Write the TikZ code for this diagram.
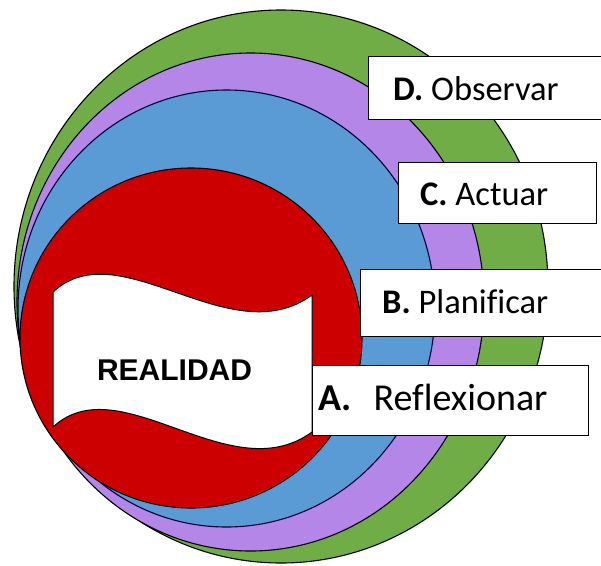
\documentclass[tikz,border=0pt]{standalone}
\usepackage{fontspec}
\setmainfont{Carlito}[Ligatures=NoCommon]
\newfontfamily\realfont{Liberation Sans}
\definecolor{cgreen}{RGB}{112,173,71}
\definecolor{cpurple}{RGB}{180,134,232}
\definecolor{cblue}{RGB}{91,155,213}
\definecolor{cred}{RGB}{204,0,0}
\tikzset{
  ring/.style={draw=black, line width=1.1pt},
  labelbox/.style={draw=black, fill=white, line width=1.3pt, rectangle, inner sep=0pt, anchor=north west},
  labeltext/.style={anchor=base west, inner sep=0pt, font=\fontsize{34.5}{40}\selectfont},
  labeltextA/.style={anchor=base west, inner sep=0pt, font=\fontsize{38}{44}\selectfont},
}
\begin{document}
\begin{tikzpicture}[x=1pt,y=-1pt]
\useasboundingbox (0,0) rectangle (601,565);
% nested rings
\draw[ring, fill=cgreen] (281,286.5) ellipse [x radius=267pt, y radius=276.5pt];
\draw[ring, fill=cpurple] (250.5,302) ellipse [x radius=233.5pt, y radius=249pt];
\draw[ring, fill=cblue, draw=black!80!blue] (226.5,308.5) ellipse [x radius=208.5pt, y radius=218.5pt];
\draw[ring, fill=cred] (191,338) ellipse [x radius=171pt, y radius=170pt];
% wavy white shape
\draw[line width=1pt, fill=white] (53,292) .. controls (120,230) and (230,355) .. (312,295)
  -- (312,432) .. controls (230,492) and (120,365) .. (53,427) -- cycle;
\node[font=\realfont\bfseries\fontsize{30}{36}\selectfont, anchor=base, inner sep=0pt] (real) at (174.5,380) {REALIDAD};
% label boxes
\node[labelbox, minimum width=240pt, minimum height=63pt] (boxD) at (368,56) {};
\node[labeltext] (labD) at (393,100) {\textbf{D.} Observar};
\node[labelbox, minimum width=198pt, minimum height=61pt] (boxC) at (398,162) {};
\node[labeltext] (labC) at (420,205) {\textbf{C.} Actuar};
\node[labelbox, minimum width=250pt, minimum height=67pt] (boxB) at (360,269) {};
\node[labeltext] (labB) at (382,313) {\textbf{B.} Planificar};
\node[labelbox, minimum width=276pt, minimum height=70pt] (boxA) at (312,365) {};
\node[labeltextA] (labA) at (318,410) {\textbf{A.}\hspace{22pt}Reflexionar};
\end{tikzpicture}
\end{document}
